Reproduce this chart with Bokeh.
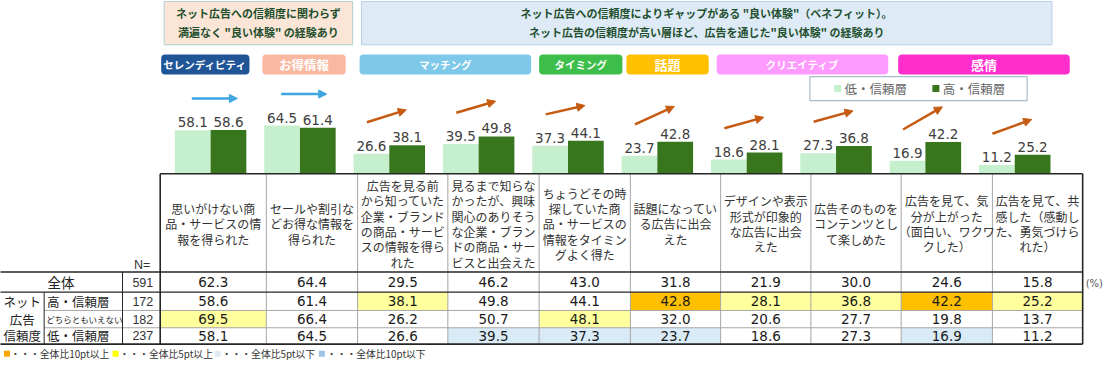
from bokeh.plotting import figure
from bokeh.models import Range1d, ColumnDataSource, Arrow, NormalHead
from bokeh.embed import file_html
from bokeh.resources import INLINE
from bokeh.core.properties import value

# ---------------- data ----------------
items = [
    "思いがけない商\n品・サービスの情\n報を得られた",
    "セールや割引な\nどお得な情報を\n得られた",
    "広告を見る前\nから知っていた\n企業・ブランド\nの商品・サービ\nスの情報を得ら\nれた",
    "見るまで知らな\nかったが、興味\n関心のありそう\nな企業・ブラン\nドの商品・サー\nビスと出会えた",
    "ちょうどその時\n探していた商\n品・サービスの\n情報をタイミン\nグよく得た",
    "話題になってい\nる広告に出会\nえた",
    "デザインや表示\n形式が印象的\nな広告に出会\nえた",
    "広告そのものを\nコンテンツとし\nて楽しめた",
    "広告を見て、気\n分が上がった\n（面白い、ワクワ\nクした）",
    "広告を見て、共\n感した（感動し\nた、勇気づけら\nれた）",
]
overall = [62.3, 64.4, 29.5, 46.2, 43.0, 31.8, 21.9, 30.0, 24.6, 15.8]
high_trust = [58.6, 61.4, 38.1, 49.8, 44.1, 42.8, 28.1, 36.8, 42.2, 25.2]
neutral = [69.5, 66.4, 26.2, 50.7, 48.1, 32.0, 20.6, 27.7, 19.8, 13.7]
low_trust = [58.1, 64.5, 26.6, 39.5, 37.3, 23.7, 18.6, 27.3, 16.9, 11.2]
n_values = [591, 172, 182, 237]
row_labels = ["全体", "高・信頼層", "どちらともいえない", "低・信頼層"]
side_label = ["ネット", "広告", "信頼度"]
series_names = ["低・信頼層", "高・信頼層"]
benefit_types = ["セレンディピティ", "お得情報", "マッチング", "タイミング", "話題", "クリエイティブ", "感情"]
trend_group = [0, 0, 1, 1, 1, 1, 1, 1, 1, 1]   # 0 = flat (blue), 1 = gap (orange)
header_notes = [
    "ネット広告への信頼度に関わらず\n満遍なく \"良い体験\" の経験あり",
    "ネット広告への信頼度によりギャップがある \"良い体験\"（ベネフィット）。\nネット広告の信頼度が高い層ほど、広告を通じた\"良い体験\" の経験あり",
]
legend_notes = ["・・・全体比10pt以上", "・・・全体比5pt以上", "・・・全体比5pt以下", "・・・全体比10pt以下"]

# ---------------- styles / layout ----------------
JP = value("Noto Sans CJK JP")
NUM = value("DejaVu Sans")
C_LOW = "#C6EFCE"
C_HIGH = "#38761D"
pill_colors = ["#1F5597", "#F8B9A0", "#7EC8EA", "#3DBE4A", "#FFC000", "#FF9BFF", "#FF2ECC"]
pill_font = ["10.5px", "12.5px", "10.5px", "10.5px", "13px", "10.5px", "13px"]
pill_x = [(163, 252), (265, 349), (363, 536), (544, 628), (632, 715), (723, 896), (906, 1079)]
col_edges = [162, 269, 361, 452, 544, 636, 727, 818, 909, 1001, 1092]
row_edges = [181, 283, 304, 323, 341, 358]

p = figure(width=1104, height=360, x_range=Range1d(1, 1114), y_range=Range1d(375, 1),
           output_backend="svg", toolbar_location=None, min_border=0,
           x_axis_location=None, y_axis_location=None)
p.grid.visible = False
p.outline_line_color = None
p.background_fill_color = "white"

# bar scales (index for x, percentage for y)
BX0, BK = 212.8, 90.08
BY0, VK = 180.6, 0.77
p.extra_x_ranges = {"bx": Range1d((1 - BX0) / BK, (1114 - BX0) / BK)}
p.extra_y_ranges = {"bv": Range1d((BY0 - 375) / VK, (BY0 - 1) / VK)}

# ---------------- header note boxes ----------------
p.quad(left=[166], right=[356], top=[2], bottom=[47], fill_color="#FBE5D6", line_color="#AFCFD3", line_width=1)
p.quad(left=[365], right=[1061], top=[2], bottom=[47], fill_color="#DEEBF7", line_color="#B9CDE5", line_width=1)
p.text(x=[261, 713], y=[24, 24], text=header_notes, text_align="center", text_baseline="middle",
       text_font=JP, text_font_size="11px", text_font_style="bold", text_color="#24502F",
       text_line_height=1.15)

# ---------------- benefit pills ----------------
for (x0, x1), col, name, fs in zip(pill_x, pill_colors, benefit_types, pill_font):
    p.quad(left=[x0], right=[x1], top=[57], bottom=[78], fill_color=col, line_color=None, border_radius=4)
    p.text(x=[(x0 + x1) / 2], y=[67.5], text=[name], text_align="center", text_baseline="middle",
           text_font=JP, text_font_size=fs, text_font_style="bold", text_color="white")

# ---------------- legend box ----------------
p.quad(left=[817], right=[1036], top=[80], bottom=[105], fill_color="white", line_color="#A8BCCC", line_width=1.2)
p.scatter(x=[845, 944], y=[92.5, 92.5], marker="square", size=7, fill_color=[C_LOW, C_HIGH], line_color=None)
p.text(x=[852, 951], y=[92.5, 92.5], text=series_names, text_align="left", text_baseline="middle",
       text_font=JP, text_font_size="12.5px", text_color="#666666")

# ---------------- bars ----------------
idx = list(range(len(items)))
src = ColumnDataSource(dict(
    xl=[i - 0.2 for i in idx], xh=[i + 0.2 for i in idx],
    low=low_trust, high=high_trust,
    lowt=[f"{v:.1f}" for v in low_trust], hight=[f"{v:.1f}" for v in high_trust],
))
p.vbar(x="xl", top="low", bottom=0, width=0.4, source=src, fill_color=C_LOW, line_color=None,
       x_range_name="bx", y_range_name="bv")
p.vbar(x="xh", top="high", bottom=0, width=0.4, source=src, fill_color=C_HIGH, line_color=None,
       x_range_name="bx", y_range_name="bv")
for xc, yc, tc in (("xl", "low", "lowt"), ("xh", "high", "hight")):
    p.text(x=xc, y=yc, text=tc, source=src, text_align="center", text_baseline="bottom", y_offset=-3,
           text_font=NUM, text_font_size="13.5px", text_color="#404040",
           x_range_name="bx", y_range_name="bv")

# trend arrows
for g, colr in ((0, "#3DA5E0"), (1, "#C55A11")):
    sel = [i for i in idx if trend_group[i] == g]
    if g == 0:
        ys = [max(low_trust[i], high_trust[i]) + 42.5 for i in sel]
        ye = ys
        xs = [i - 0.21 for i in sel]
        xe = [i + 0.30 for i in sel]
    else:
        ys = [low_trust[i] + 42.3 for i in sel]
        ye = [high_trust[i] + 47.5 for i in sel]
        xs = [i - 0.25 for i in sel]
        xe = [i + 0.19 for i in sel]
    asrc = ColumnDataSource(dict(xs=xs, ys=ys, xe=xe, ye=ye))
    p.add_layout(Arrow(x_start="xs", y_start="ys", x_end="xe", y_end="ye", source=asrc,
                       line_color=colr, line_width=2.5,
                       end=NormalHead(size=8, fill_color=colr, line_color=colr),
                       x_range_name="bx", y_range_name="bv"))

# ---------------- table ----------------
rows = [overall, high_trust, neutral, low_trust]
hl_l, hl_r, hl_t, hl_b, hl_c = [], [], [], [], []
for r in range(1, 4):
    for c in idx:
        d = rows[r][c] - overall[c]
        colr = None
        if d >= 10:
            colr = "#FFC000"
        elif d >= 5:
            colr = "#FFFF9E"
        elif d <= -10:
            colr = "#9DC3E6"
        elif d <= -5:
            colr = "#DAEBF8"
        if colr:
            hl_l.append(col_edges[c]); hl_r.append(col_edges[c + 1])
            hl_t.append(row_edges[r + 1]); hl_b.append(row_edges[r + 2]); hl_c.append(colr)
p.quad(left=hl_l, right=hl_r, top=hl_t, bottom=hl_b, fill_color=hl_c, line_color=None)

# grid lines
gx0, gy0, gx1, gy1 = [], [], [], []
for x in col_edges[1:-1]:
    gx0.append(x); gy0.append(181); gx1.append(x); gy1.append(358)
for y in (323, 341):
    gx0.append(45); gy0.append(y); gx1.append(1092); gy1.append(y)
p.segment(x0=gx0, y0=gy0, x1=gx1, y1=gy1, line_color="#A6A6A6", line_width=1)
dx0 = [162, 162, 1092, 0, 0, 0, 124, 45]
dy0 = [181, 181, 181, 283, 304, 358, 283, 304]
dx1 = [1092, 162, 1092, 1092, 1092, 1092, 124, 45]
dy1 = [181, 358, 358, 283, 304, 358, 358, 358]
p.segment(x0=dx0, y0=dy0, x1=dx1, y1=dy1, line_color="#262626", line_width=[1.6, 1.6, 1.6, 1.6, 1.3, 1.6, 1, 1])

# header item texts
cx = [(col_edges[i] + col_edges[i + 1]) / 2 for i in idx]
p.text(x=cx, y=[233] * len(idx), text=items, text_align="center", text_baseline="middle",
       text_font=JP, text_font_size="12px", text_color="#333333", text_line_height=0.9)

# values
row_cy = [(row_edges[k] + row_edges[k + 1]) / 2 for k in range(1, 5)]
tx, ty, tt = [], [], []
for r, vals in enumerate(rows):
    for c in idx:
        tx.append(cx[c]); ty.append(row_cy[r]); tt.append(f"{vals[c]:.1f}")
p.text(x=tx, y=ty, text=tt, text_align="center", text_baseline="middle",
       text_font=NUM, text_font_size="13.5px", text_color="#1A1A1A")

# N column
p.text(x=[152], y=[276], text=["N="], text_align="right", text_baseline="middle",
       text_font=value("Liberation Sans"), text_font_size="12.5px", text_color="#333333")
p.text(x=[155] * 4, y=row_cy, text=[str(n) for n in n_values], text_align="right", text_baseline="middle",
       text_font=value("Liberation Sans"), text_font_size="12.5px", text_color="#333333")

# row labels
p.text(x=[62], y=[row_cy[0]], text=[row_labels[0]], text_align="center", text_baseline="middle",
       text_font=JP, text_font_size="13.5px", text_color="#222222")
p.text(x=[48, 48], y=[row_cy[1], row_cy[3]], text=[row_labels[1], row_labels[3]], text_align="left",
       text_baseline="middle", text_font=JP, text_font_size="12.5px", text_color="#222222")
p.text(x=[47], y=[row_cy[2]], text=[row_labels[2]], text_align="left", text_baseline="middle",
       text_font=JP, text_font_size="8.5px", text_color="#222222")
p.text(x=[23, 23, 23], y=row_cy[1:], text=side_label, text_align="center", text_baseline="middle",
       text_font=JP, text_font_size="12.5px", text_color="#222222")

p.text(x=[1095], y=[295], text=["(%)"], text_align="left", text_baseline="middle",
       text_font=NUM, text_font_size="10px", text_color="#555555")

# bottom legend
p.scatter(x=[7.5, 117, 220, 325], y=[368] * 4, marker="square", size=6,
          fill_color=["#FFA500", "#FFFF00", "#E1EAF0", "#9DC3E6"], line_color=None)
p.text(x=[11, 121, 224, 330], y=[368] * 4, text=legend_notes, text_align="left", text_baseline="middle",
       text_font=JP, text_font_size="9.8px", text_color="#333333")

open("out.html", "w").write(file_html(p, INLINE))
